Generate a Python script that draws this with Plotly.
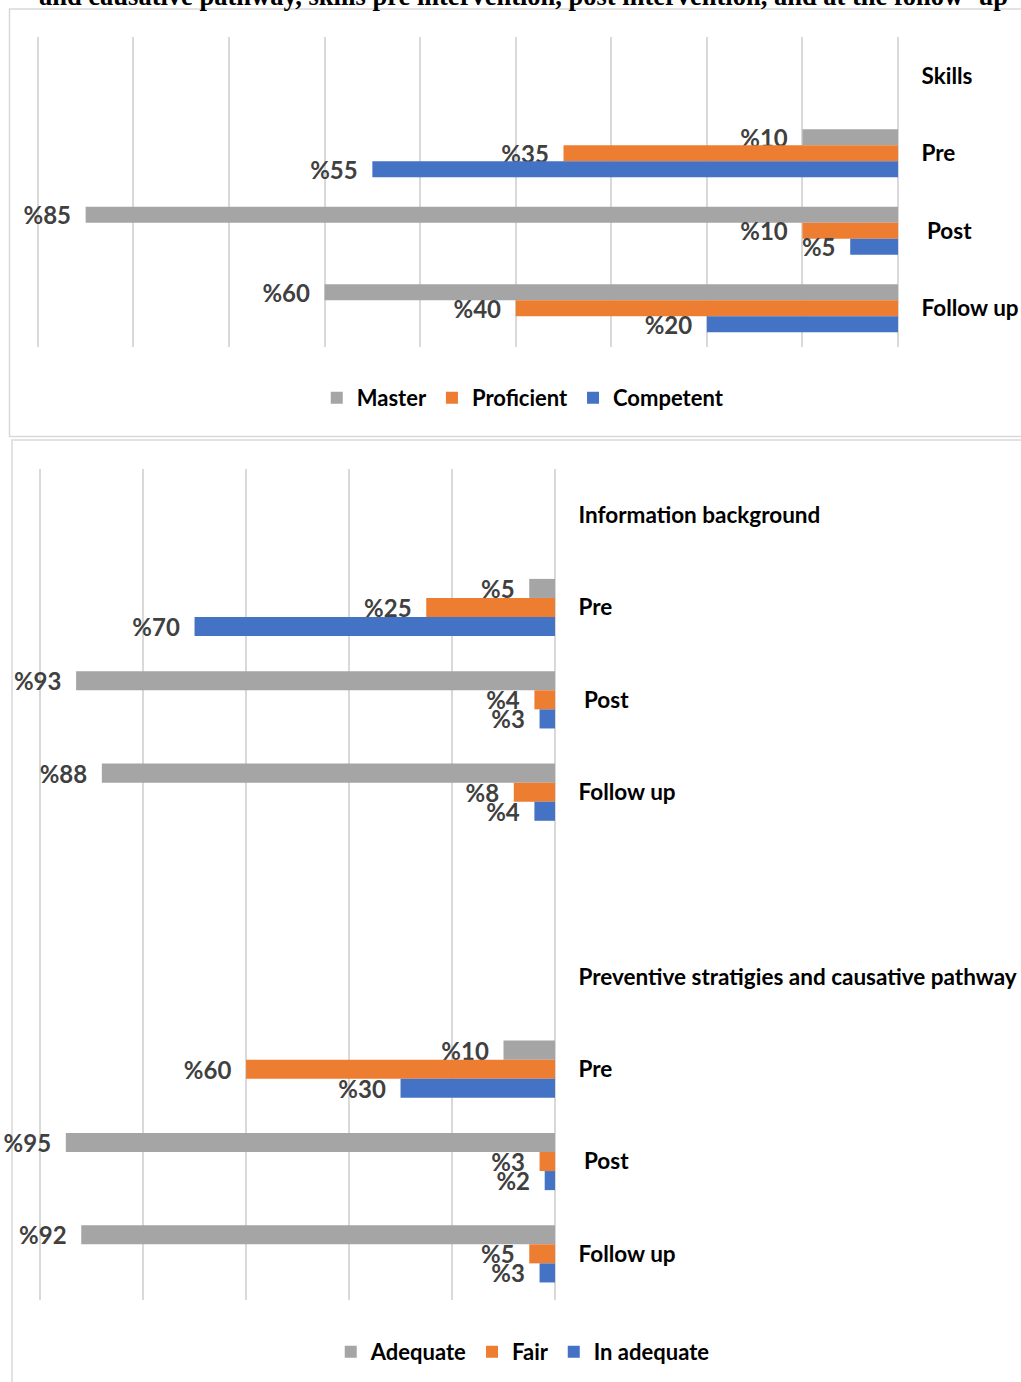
import plotly.graph_objects as go

W, H = 1021, 1382

# ---------------- data ----------------
top_categories = ["Skills", "Pre", "\u00a0Post", "Follow up"]
top_series = ["Master", "Proficient", "Competent"]
top_master = [None, 10, 85, 60]
top_proficient = [None, 35, 10, 40]
top_competent = [None, 55, 5, 20]

bot_categories = ["Information background", "Pre", "\u00a0Post", "Follow up", "",
                  "Preventive stratigies and causative pathway", "Pre", "\u00a0Post", "Follow up"]
bot_series = ["Adequate", "Fair", "In adequate"]
bot_adequate = [None, 5, 93, 88, None, None, 10, 95, 92]
bot_fair = [None, 25, 4, 8, None, None, 60, 3, 5]
bot_inadequate = [None, 70, 3, 4, None, None, 30, 2, 3]

caption = "and causative pathway, skills pre intervention, post intervention, and at the follow- up"

colors = ["#a5a5a5", "#ed7d31", "#4472c4"]

# ---------------- helpers ----------------
def px_x(p):
    return p / W

def px_y(p):
    return 1 - p / H

def labels(vals):
    return ["%" + str(v) + "\u00a0\u00a0" if v is not None else "" for v in vals]

LABEL_FONT = dict(family="Lato", size=24, color="#404040", weight="bold")
CAT_FONT = dict(family="Lato", size=22.5, color="#000000", weight="bold")
LEG_FONT = dict(family="Lato", size=22, color="#000000", weight="bold")

fig = go.Figure()

top_pos = list(range(len(top_categories)))
for name, vals, col in zip(top_series, [top_master, top_proficient, top_competent], colors):
    fig.add_trace(go.Bar(
        y=top_pos, x=vals, name=name, orientation="h",
        marker=dict(color=col, line=dict(width=0)),
        text=labels(vals), textposition="outside", cliponaxis=False,
        constraintext="none", textfont=LABEL_FONT,
        xaxis="x", yaxis="y", legend="legend", hoverinfo="skip",
    ))

bot_pos = list(range(len(bot_categories)))
for name, vals, col in zip(bot_series, [bot_adequate, bot_fair, bot_inadequate], colors):
    fig.add_trace(go.Bar(
        y=bot_pos, x=vals, name=name, orientation="h",
        marker=dict(color=col, line=dict(width=0)),
        text=labels(vals), textposition="outside", cliponaxis=False,
        constraintext="none", textfont=LABEL_FONT,
        xaxis="x2", yaxis="y2", legend="legend2", hoverinfo="skip",
    ))

grid = "#d9d9d9"
fig.update_layout(
    width=W, height=H,
    margin=dict(l=0, r=0, t=0, b=0),
    paper_bgcolor="white", plot_bgcolor="white",
    barmode="group", bargap=0.38, bargroupgap=0,
    xaxis=dict(domain=[px_x(35), px_x(898)], range=[90.3, 0], dtick=10, tick0=0,
               showticklabels=False, showgrid=True, gridcolor=grid, gridwidth=1.5,
               zeroline=True, zerolinecolor=grid, zerolinewidth=1.5, anchor="y",
               fixedrange=True),
    yaxis=dict(domain=[px_y(347), px_y(37)], range=[len(top_categories) - 0.5, -0.5],
               tickvals=top_pos, ticktext=top_categories, side="right", anchor="x",
               showgrid=False, zeroline=False, ticks="outside", ticklen=18,
               tickcolor="rgba(0,0,0,0)", tickfont=CAT_FONT),
    xaxis2=dict(domain=[px_x(38), px_x(555)], range=[100.4, 0], dtick=20, tick0=0,
                showticklabels=False, showgrid=True, gridcolor=grid, gridwidth=1.5,
                zeroline=True, zerolinecolor=grid, zerolinewidth=1.5, anchor="y2"),
    yaxis2=dict(domain=[px_y(1300), px_y(469)], range=[len(bot_categories) - 0.5, -0.5],
                tickvals=bot_pos, ticktext=bot_categories, side="right", anchor="x2",
                showgrid=False, zeroline=False, ticks="outside", ticklen=18,
                tickcolor="rgba(0,0,0,0)", tickfont=CAT_FONT),
    legend=dict(orientation="h", x=0.512, xanchor="center", y=px_y(398), yanchor="middle",
                font=LEG_FONT, itemwidth=30, traceorder="normal", bgcolor="rgba(0,0,0,0)"),
    legend2=dict(orientation="h", x=0.512, xanchor="center", y=px_y(1352), yanchor="middle",
                 font=LEG_FONT, itemwidth=30, traceorder="normal", bgcolor="rgba(0,0,0,0)"),
    showlegend=True,
)

# panel borders
fig.add_shape(type="rect", xref="paper", yref="paper",
              x0=px_x(9.5), x1=px_x(1030), y0=px_y(436.5), y1=px_y(9),
              line=dict(color="#d9d9d9", width=1.5), fillcolor="rgba(0,0,0,0)", layer="below")
fig.add_shape(type="rect", xref="paper", yref="paper",
              x0=px_x(12), x1=px_x(1030), y0=px_y(1395), y1=px_y(440),
              line=dict(color="#d9d9d9", width=1.5), fillcolor="rgba(0,0,0,0)", layer="below")

# cropped caption from the page above
fig.add_annotation(text=caption, xref="paper", yref="paper", x=px_x(37), xanchor="left",
                   y=px_y(4), yanchor="bottom", yshift=-9, showarrow=False,
                   font=dict(family="Liberation Serif", size=26.5, color="#000000", weight="bold"))

fig.write_html("out.html")
